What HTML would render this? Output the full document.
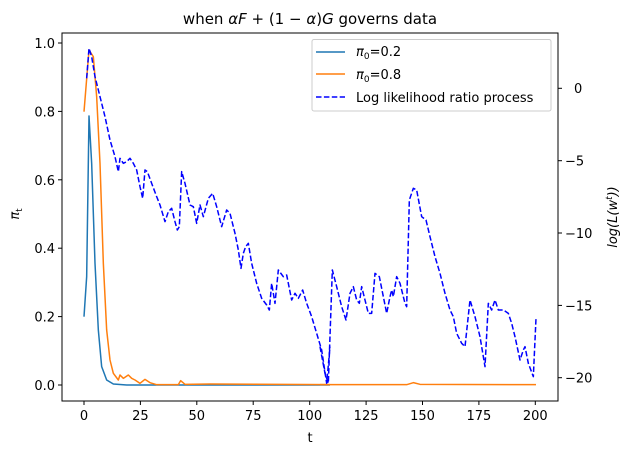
<!DOCTYPE html>
<html><head><meta charset="utf-8"><style>
body{margin:0;background:#fff}
svg text{font-family:"DejaVu Sans","Liberation Sans",sans-serif;font-size:13px;fill:#000}
</style></head><body>
<svg width="633" height="455" viewBox="0 0 633 455" xmlns="http://www.w3.org/2000/svg">
<rect width="633" height="455" fill="#fff"/>
<g transform="translate(60,30) scale(0.33333)" fill="none" stroke-linejoin="round">
<path stroke="#1f77b4" stroke-width="4.5" d="M72,860 L80,740 L87,258 L95,400 L105,700 L115,900 L125,1010 L140,1050 L160,1062 L200,1065 L810,1065"/>
<path stroke="#ff7f0e" stroke-width="4.5" d="M72,245 L87,60 L100,80 L110,200 L120,400 L130,700 L140,900 L150,990 L160,1030 L175,1050 L180,1035 L190,1045 L205,1035 L215,1045 L225,1050 L240,1060 L255,1048 L270,1058 L290,1064 L355,1064 L362,1052 L375,1063 L450,1062 L810,1064"/>
<path stroke="#0000ff" stroke-width="4.5" stroke-dasharray="16.5 7.2" d="M80,145 L87,55 L95,80 L105,140 L120,200 L135,260 L150,330 L165,380 L175,425 L180,385 L190,400 L200,395 L210,385 L220,400 L230,420 L240,470 L248,505 L255,420 L262,425 L275,460 L290,500 L300,525 L315,575 L325,545 L335,535 L345,575 L352,600 L358,590 L365,425 L375,460 L390,525 L400,530 L410,580 L420,525 L430,560 L445,505 L458,490 L470,530 L485,590 L500,540 L510,550 L525,610 L535,660 L543,715 L550,670 L557,650 L565,640 L575,700 L590,760 L605,805 L620,825 L628,840 L635,760 L645,820 L655,720 L670,740 L680,735 L695,810 L705,790 L715,805 L728,780 L740,820 L755,860 L770,910 L785,960 L800,1060 L810,950"/>
</g>
<g transform="translate(320,30) scale(0.33333)" fill="none" stroke-linejoin="round">
<path stroke="#ff7f0e" stroke-width="4.5" d="M0,1064 L260,1064 L280,1058 L300,1063 L648,1064"/>
<path stroke="#0000ff" stroke-width="4.5" stroke-dasharray="16.5 7.2" d="M0,950 L15,1030 L25,1060 L37,720 L50,770 L65,830 L78,870 L90,790 L100,770 L110,810 L118,820 L125,770 L135,810 L145,850 L155,850 L165,730 L178,740 L190,800 L200,850 L210,800 L215,780 L220,800 L230,740 L240,760 L255,820 L260,830 L268,510 L280,475 L290,480 L305,560 L318,570 L330,620 L345,680 L360,730 L375,790 L390,840 L400,860 L410,910 L425,940 L435,950 L450,810 L465,860 L480,920 L495,1010 L505,820 L515,840 L525,810 L535,840 L550,840 L565,850 L575,880 L585,920 L600,990 L610,960 L615,950 L625,1000 L640,1040 L648,865"/>
</g>
<rect x="62" y="33" width="496" height="368" fill="none" stroke="#000" stroke-width="1"/>
<g stroke="#000">
<line x1="84" y1="401" x2="84" y2="405"/><line x1="140.4" y1="401" x2="140.4" y2="405"/><line x1="196.8" y1="401" x2="196.8" y2="405"/><line x1="253.2" y1="401" x2="253.2" y2="405"/><line x1="309.7" y1="401" x2="309.7" y2="405"/><line x1="366.1" y1="401" x2="366.1" y2="405"/><line x1="422.5" y1="401" x2="422.5" y2="405"/><line x1="478.9" y1="401" x2="478.9" y2="405"/><line x1="535.3" y1="401" x2="535.3" y2="405"/>
<line x1="58" y1="385" x2="62" y2="385"/><line x1="58" y1="316.6" x2="62" y2="316.6"/><line x1="58" y1="248.2" x2="62" y2="248.2"/><line x1="58" y1="179.8" x2="62" y2="179.8"/><line x1="58" y1="111.4" x2="62" y2="111.4"/><line x1="58" y1="43" x2="62" y2="43"/>
<line x1="558" y1="88.3" x2="562" y2="88.3"/><line x1="558" y1="160.7" x2="562" y2="160.7"/><line x1="558" y1="233" x2="562" y2="233"/><line x1="558" y1="305.4" x2="562" y2="305.4"/><line x1="558" y1="377.7" x2="562" y2="377.7"/>
</g>
<g text-anchor="middle">
<text x="84" y="420">0</text><text x="140.4" y="420">25</text><text x="196.8" y="420">50</text><text x="253.2" y="420">75</text><text x="309.7" y="420">100</text><text x="366.1" y="420">125</text><text x="422.5" y="420">150</text><text x="478.9" y="420">175</text><text x="535.3" y="420">200</text>
</g>
<g text-anchor="end">
<text x="55" y="390">0.0</text><text x="55" y="321.6">0.2</text><text x="55" y="253.2">0.4</text><text x="55" y="184.8">0.6</text><text x="55" y="116.4">0.8</text><text x="55" y="48">1.0</text>
</g>
<g text-anchor="start">
<text x="574" y="93">0</text><text x="565" y="165.7">−5</text><text x="565" y="238">−10</text><text x="565" y="310.4">−15</text><text x="565" y="382.7">−20</text>
</g>
<text x="310" y="442" text-anchor="middle">t</text>
<text transform="translate(19,214) rotate(-90)" text-anchor="middle" font-style="italic">π<tspan font-size="9" dy="3" font-style="normal">t</tspan></text>
<text transform="translate(617,217) rotate(-90)" text-anchor="middle" font-style="italic">log(L(w<tspan font-size="9" dy="-5">t</tspan><tspan dy="5">))</tspan></text>
<text x="310" y="24" text-anchor="middle" style="font-size:15px">when <tspan font-style="italic">αF</tspan> + (1 − <tspan font-style="italic">α</tspan>)<tspan font-style="italic">G</tspan> governs data</text>
<rect x="312" y="39.5" width="239" height="71.5" rx="2" fill="#fff" fill-opacity="0.8" stroke="#ccc"/>
<line x1="316" y1="52" x2="345" y2="52" stroke="#1f77b4" stroke-width="1.5"/>
<line x1="316" y1="74" x2="345" y2="74" stroke="#ff7f0e" stroke-width="1.5"/>
<line x1="316" y1="97" x2="345" y2="97" stroke="#0000ff" stroke-width="1.5" stroke-dasharray="5.5 2.4"/>
<text x="356" y="56"><tspan font-style="italic">π</tspan><tspan font-size="9" dy="3">0</tspan><tspan dy="-3">=0.2</tspan></text>
<text x="356" y="79"><tspan font-style="italic">π</tspan><tspan font-size="9" dy="3">0</tspan><tspan dy="-3">=0.8</tspan></text>
<text x="356" y="102">Log likelihood ratio process</text>
</svg>
</body></html>
